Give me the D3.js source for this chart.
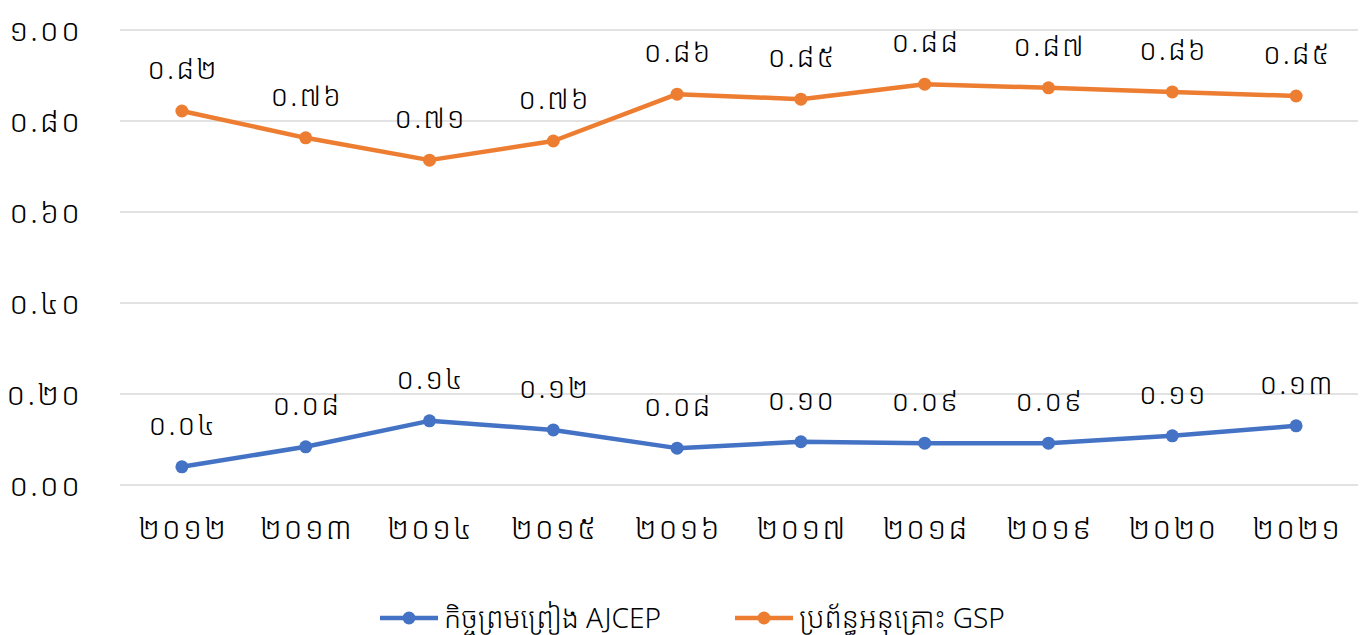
<!DOCTYPE html>
<html>
<head>
<meta charset="utf-8">
<script src="https://cdn.jsdelivr.net/npm/d3@7"></script>
<style>
  body { margin: 0; background: #fff; }
  text { font-family: "Noto Sans Khmer", "Khmer OS", "Noto Sans", sans-serif; fill: #000; font-weight: 300; }
</style>
</head>
<body>
<div id="chart"></div>
<script>
const years = [2012, 2013, 2014, 2015, 2016, 2017, 2018, 2019, 2020, 2021];
const ajcep = [0.04, 0.084, 0.141, 0.121, 0.081, 0.095, 0.092, 0.092, 0.108, 0.13];
const gsp = [0.822, 0.763, 0.714, 0.756, 0.859, 0.848, 0.881, 0.873, 0.864, 0.855];
const yTicks = [0, 0.2, 0.4, 0.6, 0.8, 1.0];
const seriesNames = ['កិច្ចព្រមព្រៀង AJCEP', 'ប្រព័ន្ធអនុគ្រោះ GSP'];
const colours = ['#4472C4', '#ED7D31'];

const width = 1362;
const height = 635;
const marginLeft = 120;
const marginRight = 4;
const marginTop = 30;
const marginBottom = 150;

const khmerDigits = '០១២៣៤៥៦៧៨៩';
const toKhmer = (s) => String(s).replace(/[0-9]/g, (c) => khmerDigits[+c]);

const x = d3.scaleBand()
  .domain(years)
  .range([marginLeft, width - marginRight]);

const y = d3.scaleLinear()
  .domain([0, 1])
  .range([height - marginBottom, marginTop]);

const svg = d3.select('#chart').append('svg')
  .attr('width', width)
  .attr('height', height)
  .attr('viewBox', [0, 0, width, height]);

// grid lines
svg.append('g')
  .selectAll('line')
  .data(yTicks)
  .join('line')
  .attr('x1', marginLeft)
  .attr('x2', width - marginRight)
  .attr('y1', (d) => y(d))
  .attr('y2', (d) => y(d))
  .attr('stroke', '#d9d9d9')
  .attr('stroke-width', 1.5);

// y axis
svg.append('g')
  .attr('transform', `translate(${marginLeft - 38},0)`)
  .call(d3.axisLeft(y).tickValues(yTicks).tickSize(0).tickPadding(0)
    .tickFormat((d) => toKhmer(d.toFixed(2))))
  .call((g) => g.select('.domain').remove())
  .call((g) => g.selectAll('text').attr('font-size', 31).attr('letter-spacing', 2).attr('dy', '0.35em'));

// x axis
svg.append('g')
  .attr('transform', `translate(1,${y(0)})`)
  .call(d3.axisBottom(x).tickSize(0).tickPadding(32).tickFormat((d) => toKhmer(d)))
  .call((g) => g.select('.domain').remove())
  .call((g) => g.selectAll('text').attr('font-size', 31).attr('letter-spacing', 2));

const allSeries = [ajcep, gsp];
const line = d3.line()
  .x((d, i) => x(years[i]) + x.bandwidth() / 2)
  .y((d) => y(d));

allSeries.forEach((values, s) => {
  svg.append('path')
    .datum(values)
    .attr('fill', 'none')
    .attr('stroke', colours[s])
    .attr('stroke-width', 4.5)
    .attr('stroke-linejoin', 'round')
    .attr('d', line);

  svg.append('g')
    .selectAll('circle')
    .data(values)
    .join('circle')
    .attr('cx', (d, i) => x(years[i]) + x.bandwidth() / 2)
    .attr('cy', (d) => y(d))
    .attr('r', 6.5)
    .attr('fill', colours[s]);

  svg.append('g')
    .selectAll('text')
    .data(values)
    .join('text')
    .attr('x', (d, i) => x(years[i]) + x.bandwidth() / 2 + 1)
    .attr('y', (d) => y(d) - 32)
    .attr('text-anchor', 'middle')
    .attr('font-size', 29)
    .attr('letter-spacing', 2)
    .text((d) => toKhmer(d.toFixed(2)));
});

// legend
const legendX = [380, 735];
const legend = svg.append('g').attr('transform', `translate(0,${height - 17})`);
seriesNames.forEach((name, s) => {
  const g = legend.append('g').attr('transform', `translate(${legendX[s]},0)`);
  g.append('line')
    .attr('x1', 0).attr('x2', 58)
    .attr('stroke', colours[s])
    .attr('stroke-width', 4.5);
  g.append('circle').attr('cx', 29).attr('r', 6.5).attr('fill', colours[s]);
  g.append('text')
    .attr('x', 64)
    .attr('dy', '0.35em')
    .attr('font-size', 28)
    .text(name);
});
</script>
</body>
</html>
